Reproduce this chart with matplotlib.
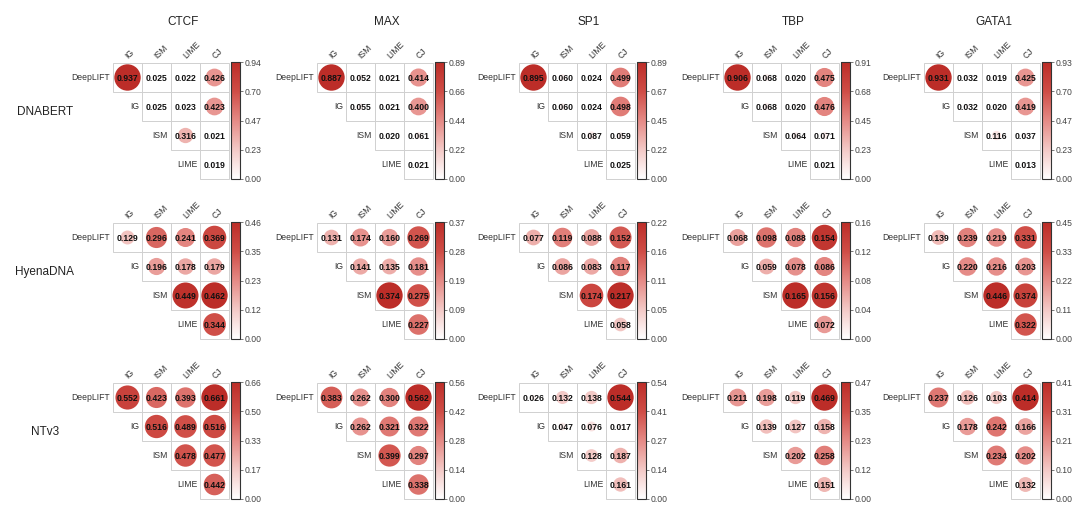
import numpy as np
import matplotlib
matplotlib.use("Agg")
import matplotlib.pyplot as plt
from matplotlib.patches import Circle, Rectangle
from matplotlib.colors import LinearSegmentedColormap, Normalize
from matplotlib.cm import ScalarMappable

plt.rcParams['font.family'] = ['Liberation Sans', 'DejaVu Sans']

# ---------------- data ----------------
tfs = ["CTCF", "MAX", "SP1", "TBP", "GATA1"]
models = ["DNABERT", "HyenaDNA", "NTv3"]
row_methods = ["DeepLIFT", "IG", "ISM", "LIME"]
col_methods = ["IG", "ISM", "LIME", "CJ"]

# upper-triangle values, order: DeepLIFT(IG,ISM,LIME,CJ), IG(ISM,LIME,CJ), ISM(LIME,CJ), LIME(CJ)
dnabert = [
    [0.937, 0.025, 0.022, 0.426, 0.025, 0.023, 0.423, 0.316, 0.021, 0.019],
    [0.887, 0.052, 0.021, 0.414, 0.055, 0.021, 0.400, 0.020, 0.061, 0.021],
    [0.895, 0.060, 0.024, 0.499, 0.060, 0.024, 0.498, 0.087, 0.059, 0.025],
    [0.906, 0.068, 0.020, 0.475, 0.068, 0.020, 0.476, 0.064, 0.071, 0.021],
    [0.931, 0.032, 0.019, 0.425, 0.032, 0.020, 0.419, 0.116, 0.037, 0.013],
]
hyenadna = [
    [0.129, 0.296, 0.241, 0.369, 0.196, 0.178, 0.179, 0.449, 0.462, 0.344],
    [0.131, 0.174, 0.160, 0.269, 0.141, 0.135, 0.181, 0.374, 0.275, 0.227],
    [0.077, 0.119, 0.088, 0.152, 0.086, 0.083, 0.117, 0.174, 0.217, 0.058],
    [0.068, 0.098, 0.088, 0.154, 0.059, 0.078, 0.086, 0.165, 0.156, 0.072],
    [0.139, 0.239, 0.219, 0.331, 0.220, 0.216, 0.203, 0.446, 0.374, 0.322],
]
ntv3 = [
    [0.552, 0.423, 0.393, 0.661, 0.516, 0.489, 0.516, 0.478, 0.477, 0.442],
    [0.383, 0.262, 0.300, 0.562, 0.262, 0.321, 0.322, 0.399, 0.297, 0.338],
    [0.026, 0.132, 0.138, 0.544, 0.047, 0.076, 0.017, 0.128, 0.187, 0.161],
    [0.211, 0.198, 0.119, 0.469, 0.139, 0.127, 0.158, 0.202, 0.258, 0.151],
    [0.237, 0.126, 0.103, 0.414, 0.178, 0.242, 0.166, 0.234, 0.202, 0.132],
]
model_values = [dnabert, hyenadna, ntv3]

cbar_labels_dnabert = [
    ["0.00", "0.23", "0.47", "0.70", "0.94"],
    ["0.00", "0.22", "0.44", "0.66", "0.89"],
    ["0.00", "0.22", "0.45", "0.67", "0.89"],
    ["0.00", "0.23", "0.45", "0.68", "0.91"],
    ["0.00", "0.23", "0.47", "0.70", "0.93"],
]
cbar_labels_hyenadna = [
    ["0.00", "0.12", "0.23", "0.35", "0.46"],
    ["0.00", "0.09", "0.19", "0.28", "0.37"],
    ["0.00", "0.05", "0.11", "0.16", "0.22"],
    ["0.00", "0.04", "0.08", "0.12", "0.16"],
    ["0.00", "0.11", "0.22", "0.33", "0.45"],
]
cbar_labels_ntv3 = [
    ["0.00", "0.17", "0.33", "0.50", "0.66"],
    ["0.00", "0.14", "0.28", "0.42", "0.56"],
    ["0.00", "0.14", "0.27", "0.41", "0.54"],
    ["0.00", "0.12", "0.23", "0.35", "0.47"],
    ["0.00", "0.10", "0.21", "0.31", "0.41"],
]
model_cbar_labels = [cbar_labels_dnabert, cbar_labels_hyenadna, cbar_labels_ntv3]

# ---------------- layout ----------------
W, H = 1080, 505
CELL = 29
grid_left = [113, 317, 519, 723, 924]
grid_top = [63, 223, 383]

cmap = LinearSegmentedColormap.from_list(
    "wr", ["#FFFFFF", "#F3C9C6", "#E58A85", "#CF4D46", "#BC2D28"])

fig = plt.figure(figsize=(W / 100, H / 100), dpi=100)
fig.patch.set_facecolor("white")


def px_axes(x, y, w, h):
    return fig.add_axes([x / W, 1 - (y + h) / H, w / W, h / H])


pairs = [(r, c) for r in range(4) for c in range(r, 4)]

for mi, model in enumerate(models):
    gy = grid_top[mi]
    fig.text(45 / W, 1 - (gy + 49) / H, model, ha="center", va="center",
             fontsize=8.5, color="#222222")
    for ti, tf in enumerate(tfs):
        gx = grid_left[ti]
        vals = model_values[mi][ti]
        vmax = max(vals)
        norm = Normalize(0, vmax)

        ax = px_axes(gx, gy, 4 * CELL, 4 * CELL)
        ax.set_xlim(0, 4)
        ax.set_ylim(4, 0)
        ax.set_aspect("equal")
        ax.axis("off")

        for (r, c), v in zip(pairs, vals):
            ax.add_patch(Rectangle((c, r), 1, 1, facecolor="none",
                                   edgecolor="#D0D0D0", lw=0.7, clip_on=False))
            rad = 0.455 * np.sqrt(v / vmax)
            ax.add_patch(Circle((c + 0.5, r + 0.5), rad,
                                facecolor=cmap(norm(v)), edgecolor="none",
                                clip_on=False, zorder=2))
            ax.text(c + 0.5, r + 0.52, f"{v:.3f}", ha="center", va="center",
                    fontsize=6.2, fontweight="bold", color="#111111",
                    zorder=3, clip_on=False)

        for r, name in enumerate(row_methods):
            ax.text(r - 0.1, r + 0.5, name, ha="right", va="center",
                    fontsize=6.2, color="#333333", clip_on=False)
        for c, name in enumerate(col_methods):
            ax.text(c + 0.58, -0.1, name, ha="left", va="bottom",
                    rotation=45, rotation_mode="anchor",
                    fontsize=6.2, color="#333333", clip_on=False)

        if mi == 0:
            fig.text((gx + 70) / W, 1 - 22 / H, tf, ha="center", va="center",
                     fontsize=8.5, color="#222222")

        cax = px_axes(gx + 118, gy - 1, 9, 4 * CELL + 1)
        sm = ScalarMappable(norm=norm, cmap=cmap)
        cb = fig.colorbar(sm, cax=cax)
        cb.set_ticks(np.linspace(0, vmax, 5))
        cb.set_ticklabels(model_cbar_labels[mi][ti])
        cb.ax.tick_params(labelsize=6.2, length=2, width=0.5, pad=1.5,
                          colors="#444444")
        cb.outline.set_linewidth(0.8)
        cb.outline.set_edgecolor("#333333")

fig.savefig("out.png", dpi=100, facecolor="white")
